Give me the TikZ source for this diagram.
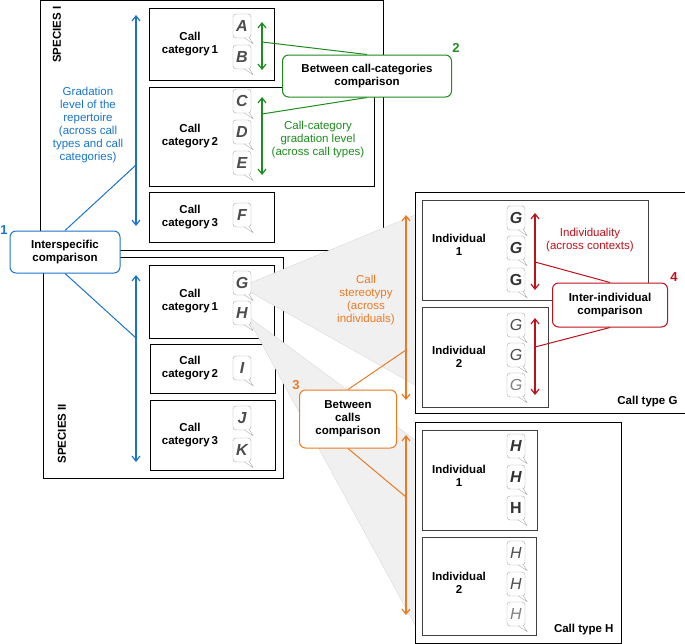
\documentclass[tikz,border=0pt]{standalone}
\usepackage{fontspec}
\setmainfont{Liberation Sans}
\usetikzlibrary{arrows.meta,positioning}
\definecolor{cblue}{HTML}{1A75C8}
\definecolor{cgreen}{HTML}{1E8C1E}
\definecolor{corange}{HTML}{EB7A23}
\definecolor{cred}{HTML}{C0101A}
\newcommand\txtsize{\fontsize{11.5}{13}\selectfont}
\tikzset{x=1pt,y=-1pt,>={Straight Barb[length=5pt,width=8pt]},
  sp/.style={draw,line width=1.2pt,fill=white,anchor=north west},
  cat/.style={draw,line width=0.8pt,fill=white,anchor=north west},
  lbl/.style={align=center,font=\txtsize\bfseries},
  bub/.style={draw=gray!70,fill=white,rounded corners=3pt,minimum width=18pt,minimum height=24pt,
    inner sep=0pt,font=\fontsize{16}{16}\selectfont\bfseries\itshape,text=gray!60!black},
  bubl/.style={bub,font=\fontsize{16}{16}\selectfont\itshape},
  bubk/.style={bub,text=gray!40!black},
  cmp/.style={draw,line width=1pt,rounded corners=6pt,fill=white,align=center,font=\txtsize\bfseries,inner sep=4pt},
  num/.style={font=\bfseries\fontsize{13}{13}\selectfont}}
\newcommand\tail[1]{\draw[gray!70,fill=white,line join=round] ([xshift=-7pt,yshift=0.4pt]#1.south east) -- ++(9,6) -- ++(-4,-6.4);}
\begin{document}
\begin{tikzpicture}[font=\txtsize]
\useasboundingbox (0,0) rectangle (685,643);
% species I
\node[sp,minimum width=343,minimum height=250] (s1) at (40,0) {};
\node[lbl,rotate=90,anchor=east] (s1l) at (57,3) {SPECIES I};
\node[cat,minimum width=125,minimum height=72] (c11) at (149,8) {};
\node[cat,minimum width=225,minimum height=99] (c12) at (149,87) {};
\node[cat,minimum width=125,minimum height=50] (c13) at (149,192) {};
\node[lbl] at (190,44) {Call\\category\,1};
\node[lbl] at (190,136) {Call\\category\,2};
\node[lbl] at (190,217) {Call\\category\,3};
% species II
\node[sp,minimum width=240,minimum height=221] (s2) at (43,257) {};
\node[lbl,rotate=90,anchor=west] (s2l) at (62,467) {SPECIES II};
\node[cat,minimum width=125,minimum height=73] (c21) at (149,265) {};
\node[cat,minimum width=125,minimum height=49] (c22) at (150,344) {};
\node[cat,minimum width=125,minimum height=70] (c23) at (150,400) {};
\node[lbl] at (190,301) {Call\\category\,1};
\node[lbl] at (190,368) {Call\\category\,2};
\node[lbl] at (190,435) {Call\\category\,3};
% grey cones
\fill[gray!12] (250,283) -- (415,215) -- (415,385) -- (250,292) -- cycle;
\draw[gray!30] (250,283) -- (415,215) (250,292) -- (415,385);
\fill[gray!12] (250,318) -- (415,440) -- (415,625) -- (250,322) -- cycle;
\draw[gray!30] (250,318) -- (415,440) (250,322) -- (415,625);
\node[bub] (bA) at (242,26) {A};
\node[bub] (bB) at (242,57) {B};
\node[bub] (bC) at (242,101) {C};
\node[bub] (bD) at (242,132) {D};
\node[bub] (bE) at (242,163) {E};
\node[bub] (bF) at (242,215) {F};
\node[bub] (bG) at (242,283) {G};
\node[bub] (bH) at (242,313) {H};
\node[bub] (bI) at (242,368) {I};
\node[bub] (bJ) at (242,418) {J};
\node[bub] (bK) at (242,450) {K};
% call type G
\node[sp,line width=1pt,minimum width=270,minimum height=221] (tG) at (415,192) {};
\node[cat,draw=gray!50!black,minimum width=226,minimum height=100] (g1) at (422,200) {};
\node[cat,draw=gray!50!black,minimum width=126,minimum height=100] (g2) at (422,307) {};
\node[lbl] at (459,245) {Individual\\1};
\node[lbl] at (459,357) {Individual\\2};
\node[lbl,anchor=south east] at (681,410) {Call type G};
\node[bubk] (g11) at (516,218) {G};
\node[bubk] (g12) at (516,248) {G};
\node[bubk,font=\fontsize{16}{16}\selectfont\bfseries] (g13) at (516,280) {G};
\node[bubl] (g21) at (516,325) {G};
\node[bubl] (g22) at (516,355) {G};
\node[bubl,text=gray] (g23) at (516,385) {G};
% call type H
\node[sp,line width=1pt,minimum width=206,minimum height=221] (tH) at (415,422) {};
\node[cat,draw=gray!50!black,minimum width=115,minimum height=100] (h1) at (422,430) {};
\node[cat,draw=gray!50!black,minimum width=114,minimum height=98] (h2) at (422,537) {};
\node[lbl] at (459,476) {Individual\\1};
\node[lbl] at (459,583) {Individual\\2};
\node[lbl,anchor=south east] at (617,638) {Call type H};
\node[bubk] (h11) at (516,446) {H};
\node[bubk] (h12) at (516,477) {H};
\node[bubk,font=\fontsize{16}{16}\selectfont\bfseries] (h13) at (516,508) {H};
\node[bubl] (h21) at (516,553) {H};
\node[bubl] (h22) at (516,584) {H};
\node[bubl,text=gray] (h23) at (516,614) {H};
\foreach \b in {bA,bB,bC,bD,bE,bF,bG,bH,bI,bJ,bK,g11,g12,g13,g21,g22,g23,h11,h12,h13,h21,h22,h23}
  \tail{\b};
% 1: blue
\coordinate (b1t) at (136,15); \coordinate (b1b) at (136,226);
\coordinate (b2t) at (136,275); \coordinate (b2b) at (136,462);
\draw[cblue,line width=1.2pt,<->] (b1t) -- (b1b);
\draw[cblue,line width=1.2pt,<->] (b2t) -- (b2b);
\node[text=cblue,align=center] at (88,125) {Gradation\\level of the\\repertoire\\(across call\\types and call\\categories)};
\node[cmp,draw=cblue,minimum width=110,minimum height=42] (isc) at (65,252) {Interspecific\\comparison};
\node[num,text=cblue] at (4,230) {1};
\draw[cblue,line width=1pt] (isc.north) -- (136,165) (isc.south) -- (136,338);
% 2: green
\coordinate (g1t) at (262,22); \coordinate (g1b) at (262,70);
\coordinate (g2t) at (262,97); \coordinate (g2b) at (262,175);
\draw[cgreen,line width=1.2pt,<->] (g1t) -- (g1b);
\draw[cgreen,line width=1.2pt,<->] (g2t) -- (g2b);
\node[text=cgreen,align=center] at (318,140) {Call-category\\gradation level\\(across call types)};
\node[cmp,draw=cgreen,minimum width=169,minimum height=42] (bcc) at (367,76) {Between call-categories\\comparison};
\node[num,text=cgreen] at (456,48) {2};
\draw[cgreen,line width=1pt] (262,42) -- (bcc.north) (262,114) -- (bcc.south);
% 3: orange
\coordinate (o1t) at (406,215); \coordinate (o1b) at (406,400);
\coordinate (o2t) at (406,435); \coordinate (o2b) at (406,615);
\draw[corange,line width=1.2pt,<->] (o1t) -- (o1b);
\draw[corange,line width=1.2pt,<->] (o2t) -- (o2b);
\node[text=corange,align=center] at (366,300) {Call\\stereotypy\\(across\\individuals)};
\node[cmp,draw=corange,minimum width=97,minimum height=58] (bcl) at (348,419) {Between\\calls\\comparison};
\node[num,text=corange] at (296,385) {3};
\draw[corange,line width=1pt] (bcl.north) -- (406,350) (bcl.south) -- (406,497);
% 4: red
\coordinate (r1t) at (535,213); \coordinate (r1b) at (535,290);
\coordinate (r2t) at (535,318); \coordinate (r2b) at (535,395);
\draw[cred,line width=1.2pt,<->] (r1t) -- (r1b);
\draw[cred,line width=1.2pt,<->] (r2t) -- (r2b);
\node[text=cred,align=center] at (590,240) {Individuality\\(across contexts)};
\node[cmp,draw=cred,minimum width=115,minimum height=44] (iic) at (610,305) {Inter-individual\\comparison};
\node[num,text=cred] at (674,277) {4};
\draw[cred,line width=1pt] (535,262) -- (iic.north) (535,347) -- (iic.south);
\end{tikzpicture}
\end{document}
